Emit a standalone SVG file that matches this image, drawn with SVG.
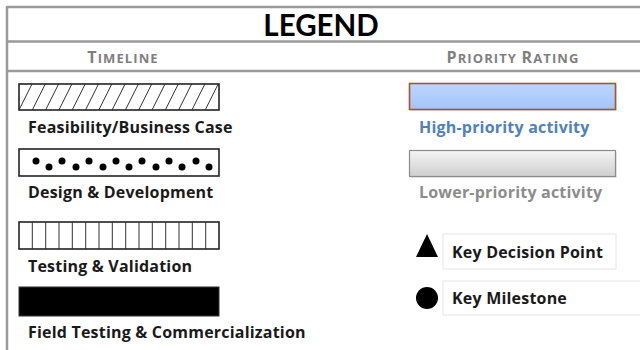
<svg xmlns="http://www.w3.org/2000/svg" width="640" height="350" viewBox="0 0 640 350">
  <defs>
    <style>
      .frame { stroke: #9a9a9a; stroke-width: 2.5; fill: none; }
      .lbl { font-family: "Open Sans", Lato, "Liberation Sans", sans-serif; font-weight: bold; font-size: 16px; letter-spacing: 0.2px; fill: #1a1a1a; }
      .hdr { font-family: "Open Sans", Lato, "Liberation Sans", sans-serif; font-weight: bold; fill: #7f7f7f; letter-spacing: 1.1px; }
      .box { stroke: #222; stroke-width: 1.6; }
      .hatch { stroke: #333; stroke-width: 1; }
    </style>
    <linearGradient id="blueGrad" x1="0" y1="0" x2="0" y2="1">
      <stop offset="0" stop-color="#bcd6ff"/>
      <stop offset="1" stop-color="#a3c4fa"/>
    </linearGradient>
    <linearGradient id="grayGrad" x1="0" y1="0" x2="0" y2="1">
      <stop offset="0" stop-color="#f4f4f4"/>
      <stop offset="1" stop-color="#cfcfcf"/>
    </linearGradient>
    <clipPath id="clip1"><rect x="19" y="84" width="200" height="26"/></clipPath>
  </defs>
  <rect width="640" height="350" fill="#ffffff"/>

  <g id="frame">
    <line class="frame" x1="7" y1="7" x2="640" y2="7"/>
    <line class="frame" x1="7" y1="41.5" x2="640" y2="41.5"/>
    <line class="frame" x1="7" y1="71" x2="640" y2="71"/>
    <line class="frame" x1="7" y1="6" x2="7" y2="350"/>
    <text x="321" y="36" text-anchor="middle" font-family="Lato, 'Open Sans', 'Liberation Sans', sans-serif" font-weight="bold" font-size="29.5" fill="#000">LEGEND</text>
    <text class="hdr" x="123" y="63" text-anchor="middle" font-size="13"><tspan font-size="16">T</tspan>IMELINE</text>
    <text class="hdr" x="513" y="63" text-anchor="middle" font-size="13"><tspan font-size="16">P</tspan>RIORITY <tspan font-size="16">R</tspan>ATING</text>
  </g>

  <g id="feasibility">
    <rect x="19" y="84" width="200" height="26" fill="#fff"/>
    <g clip-path="url(#clip1)" class="hatch">
      <line x1="19" y1="110" x2="32" y2="84"/>
      <line x1="32.3" y1="110" x2="45.3" y2="84"/>
      <line x1="45.6" y1="110" x2="58.6" y2="84"/>
      <line x1="58.9" y1="110" x2="71.9" y2="84"/>
      <line x1="72.2" y1="110" x2="85.2" y2="84"/>
      <line x1="85.5" y1="110" x2="98.5" y2="84"/>
      <line x1="98.8" y1="110" x2="111.8" y2="84"/>
      <line x1="112.1" y1="110" x2="125.1" y2="84"/>
      <line x1="125.4" y1="110" x2="138.4" y2="84"/>
      <line x1="138.7" y1="110" x2="151.7" y2="84"/>
      <line x1="152" y1="110" x2="165" y2="84"/>
      <line x1="165.3" y1="110" x2="178.3" y2="84"/>
      <line x1="178.6" y1="110" x2="191.6" y2="84"/>
      <line x1="191.9" y1="110" x2="204.9" y2="84"/>
      <line x1="205.2" y1="110" x2="218.2" y2="84"/>
    </g>
    <rect class="box" x="19" y="84" width="200" height="26" fill="none"/>
    <text class="lbl" x="28" y="133">Feasibility/Business Case</text>
  </g>

  <g id="design">
    <rect class="box" x="19" y="149" width="200" height="27" fill="#fff"/>
    <g fill="#000">
      <circle cx="36" cy="161" r="3.5"/>
      <circle cx="49" cy="167" r="3.5"/>
      <circle cx="62" cy="161" r="3.5"/>
      <circle cx="76" cy="167" r="3.5"/>
      <circle cx="89" cy="161" r="3.5"/>
      <circle cx="103" cy="167" r="3.5"/>
      <circle cx="116" cy="161" r="3.5"/>
      <circle cx="129" cy="167" r="3.5"/>
      <circle cx="142" cy="161" r="3.5"/>
      <circle cx="156" cy="167" r="3.5"/>
      <circle cx="169" cy="161" r="3.5"/>
      <circle cx="182" cy="167" r="3.5"/>
      <circle cx="196" cy="161" r="3.5"/>
      <circle cx="209" cy="167" r="3.5"/>
    </g>
    <text class="lbl" x="28" y="198">Design &amp; Development</text>
  </g>

  <g id="testing">
    <rect class="box" x="19" y="222" width="200" height="27" fill="#fff"/>
    <g class="hatch">
      <line x1="32.3" y1="222" x2="32.3" y2="249"/>
      <line x1="45.7" y1="222" x2="45.7" y2="249"/>
      <line x1="59" y1="222" x2="59" y2="249"/>
      <line x1="72.3" y1="222" x2="72.3" y2="249"/>
      <line x1="85.7" y1="222" x2="85.7" y2="249"/>
      <line x1="99" y1="222" x2="99" y2="249"/>
      <line x1="112.3" y1="222" x2="112.3" y2="249"/>
      <line x1="125.7" y1="222" x2="125.7" y2="249"/>
      <line x1="139" y1="222" x2="139" y2="249"/>
      <line x1="152.3" y1="222" x2="152.3" y2="249"/>
      <line x1="165.7" y1="222" x2="165.7" y2="249"/>
      <line x1="179" y1="222" x2="179" y2="249"/>
      <line x1="192.3" y1="222" x2="192.3" y2="249"/>
      <line x1="205.7" y1="222" x2="205.7" y2="249"/>
    </g>
    <text class="lbl" x="28" y="272">Testing &amp; Validation</text>
  </g>

  <g id="field">
    <rect x="19" y="287" width="200" height="29" fill="#000" stroke="#333" stroke-width="1"/>
    <text class="lbl" x="28" y="338">Field Testing &amp; Commercialization</text>
  </g>

  <g id="high-priority">
    <rect x="411" y="85" width="206" height="26" fill="#d8d8d8" opacity="0.6"/>
    <rect x="409.5" y="83.5" width="206" height="26" fill="url(#blueGrad)" stroke="#b0502c" stroke-width="1.6"/>
    <text class="lbl" x="419" y="133" style="fill:#4f81bd">High-priority activity</text>
  </g>

  <g id="lower-priority">
    <rect x="411" y="152" width="206" height="26" fill="#d8d8d8" opacity="0.6"/>
    <rect x="409.5" y="150.5" width="206" height="26" fill="url(#grayGrad)" stroke="#8c8c8c" stroke-width="1.2"/>
    <text class="lbl" x="419" y="198" style="fill:#8c8c8c">Lower-priority activity</text>
  </g>

  <g id="decision">
    <polygon points="427,234 438,257 416,257" fill="#000"/>
    <rect x="443" y="234" width="173" height="35" fill="#fff" stroke="#e6e6e6" stroke-width="1"/>
    <text class="lbl" x="452" y="258">Key Decision Point</text>
  </g>

  <g id="milestone">
    <circle cx="427" cy="298" r="11" fill="#000"/>
    <rect x="443" y="281" width="200" height="34" fill="#fff" stroke="#e6e6e6" stroke-width="1"/>
    <text class="lbl" x="452" y="304">Key Milestone</text>
  </g>
</svg>
